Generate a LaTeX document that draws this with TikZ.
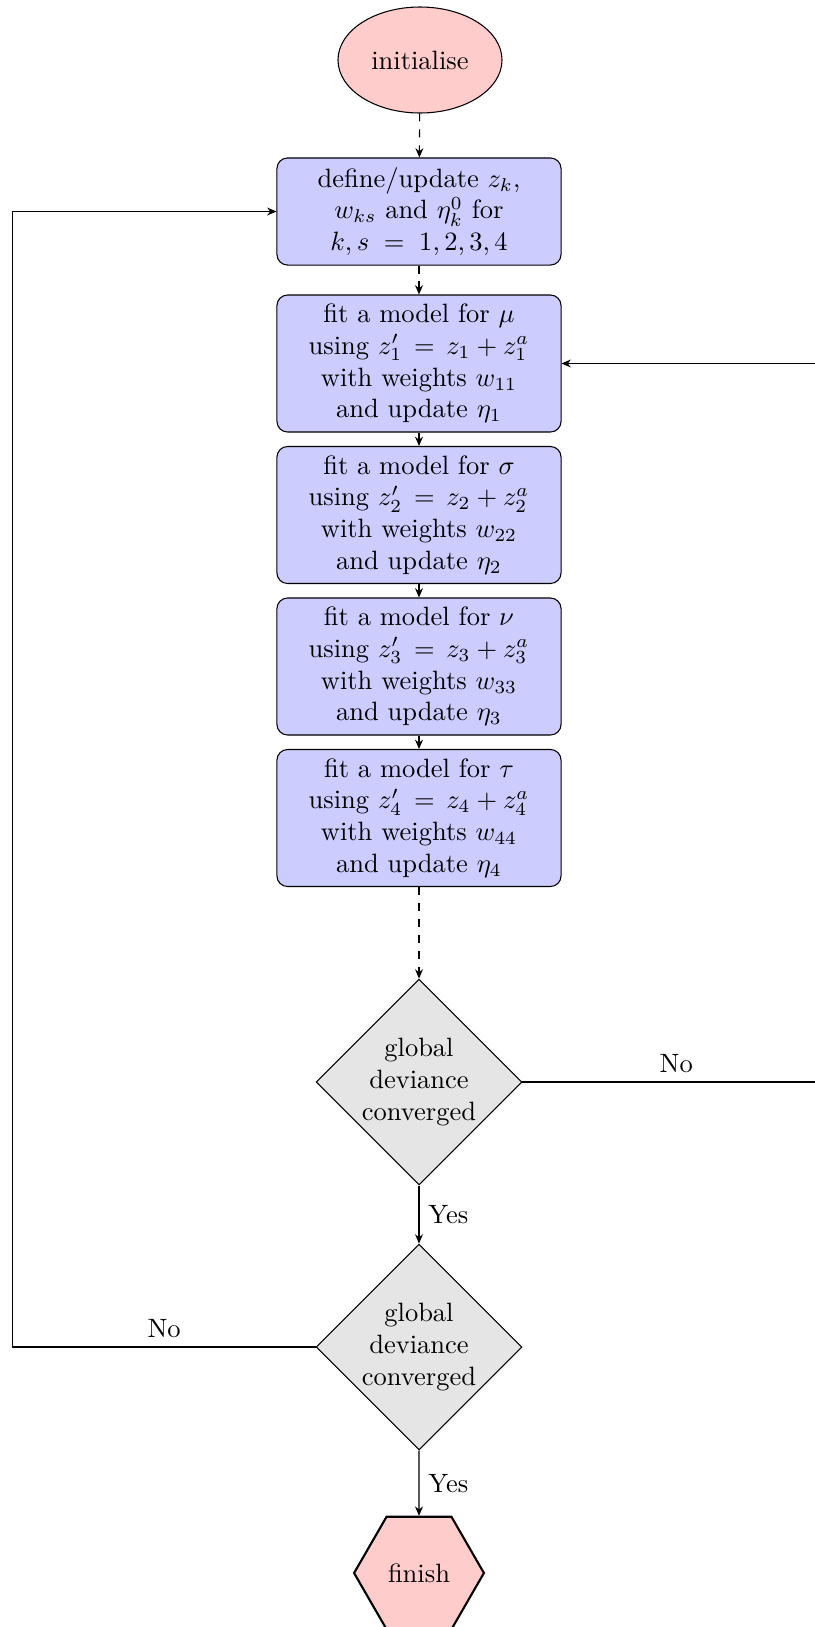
\documentclass[tikz,border=0pt]{standalone}
\usetikzlibrary{shapes.geometric,arrows.meta}
\begin{document}
\begin{tikzpicture}[x=0.37736pt,y=-0.37736pt,
  arr/.style={-{Stealth[length=3.5pt,width=3pt]}},
  startstop/.style={ellipse,draw,fill=red!20,minimum width=61.9pt,minimum height=40pt,inner sep=0pt},
  proc/.style={rectangle,rounded corners,draw,fill=blue!20,minimum width=107.2pt,align=center,inner sep=2pt},
  dec/.style={diamond,draw,fill=gray!20,aspect=1,minimum width=77.7pt,minimum height=77.7pt,inner sep=0pt,align=center},
  fin/.style={regular polygon,regular polygon sides=6,draw,thick,fill=red!20,minimum size=49pt,inner sep=0pt},
]
\useasboundingbox (0,0) rectangle (814,1627);
\node[startstop] (init) at (420,60) {initialise};
\node[proc,minimum height=40.4pt] (def) at (419,211.5) {define/update $z_k$,\\ $w_{ks}$ and $\eta_k^0$ for\\ $k,s\;=\;1,2,3,4$};
\node[proc,minimum height=51.7pt] (mu) at (419,363.5) {fit a model for $\mu$\\ using $z'_1 \,=\, z_1+z_1^a$\\ with weights $w_{11}$\\ and update $\eta_1$};
\node[proc,minimum height=51.7pt] (sig) at (419,515) {fit a model for $\sigma$\\ using $z'_2 \,=\, z_2+z_2^a$\\ with weights $w_{22}$\\ and update $\eta_2$};
\node[proc,minimum height=51.7pt] (nu) at (419,666.5) {fit a model for $\nu$\\ using $z'_3 \,=\, z_3+z_3^a$\\ with weights $w_{33}$\\ and update $\eta_3$};
\node[proc,minimum height=51.7pt] (tau) at (419,818) {fit a model for $\tau$\\ using $z'_4 \,=\, z_4+z_4^a$\\ with weights $w_{44}$\\ and update $\eta_4$};
\node[dec] (d1) at (419,1082) {global\\deviance\\converged};
\node[dec] (d2) at (419,1347) {global\\deviance\\converged};
\node[fin] (fin) at (419,1573) {finish};
\coordinate (r) at (830,1082);
\coordinate (l) at (12.7,1347);
\draw[arr,dashed] (init) -- (def);
\draw[arr,dashed] (def) -- (mu);
\draw[arr] (mu) -- (sig);
\draw[arr] (sig) -- (nu);
\draw[arr] (nu) -- (tau);
\draw[arr,dashed] (tau) -- (d1);
\draw[arr] (d1) -- node[right] {Yes} (d2);
\draw[arr] (d2) -- node[right] {Yes} (fin);
\draw[arr] (d1.east) -- node[above] {No} (d1.east -| r) |- (mu.east);
\draw[arr] (d2.west) -- node[above] {No} (d2.west -| l) |- (def.west);
\end{tikzpicture}
\end{document}
